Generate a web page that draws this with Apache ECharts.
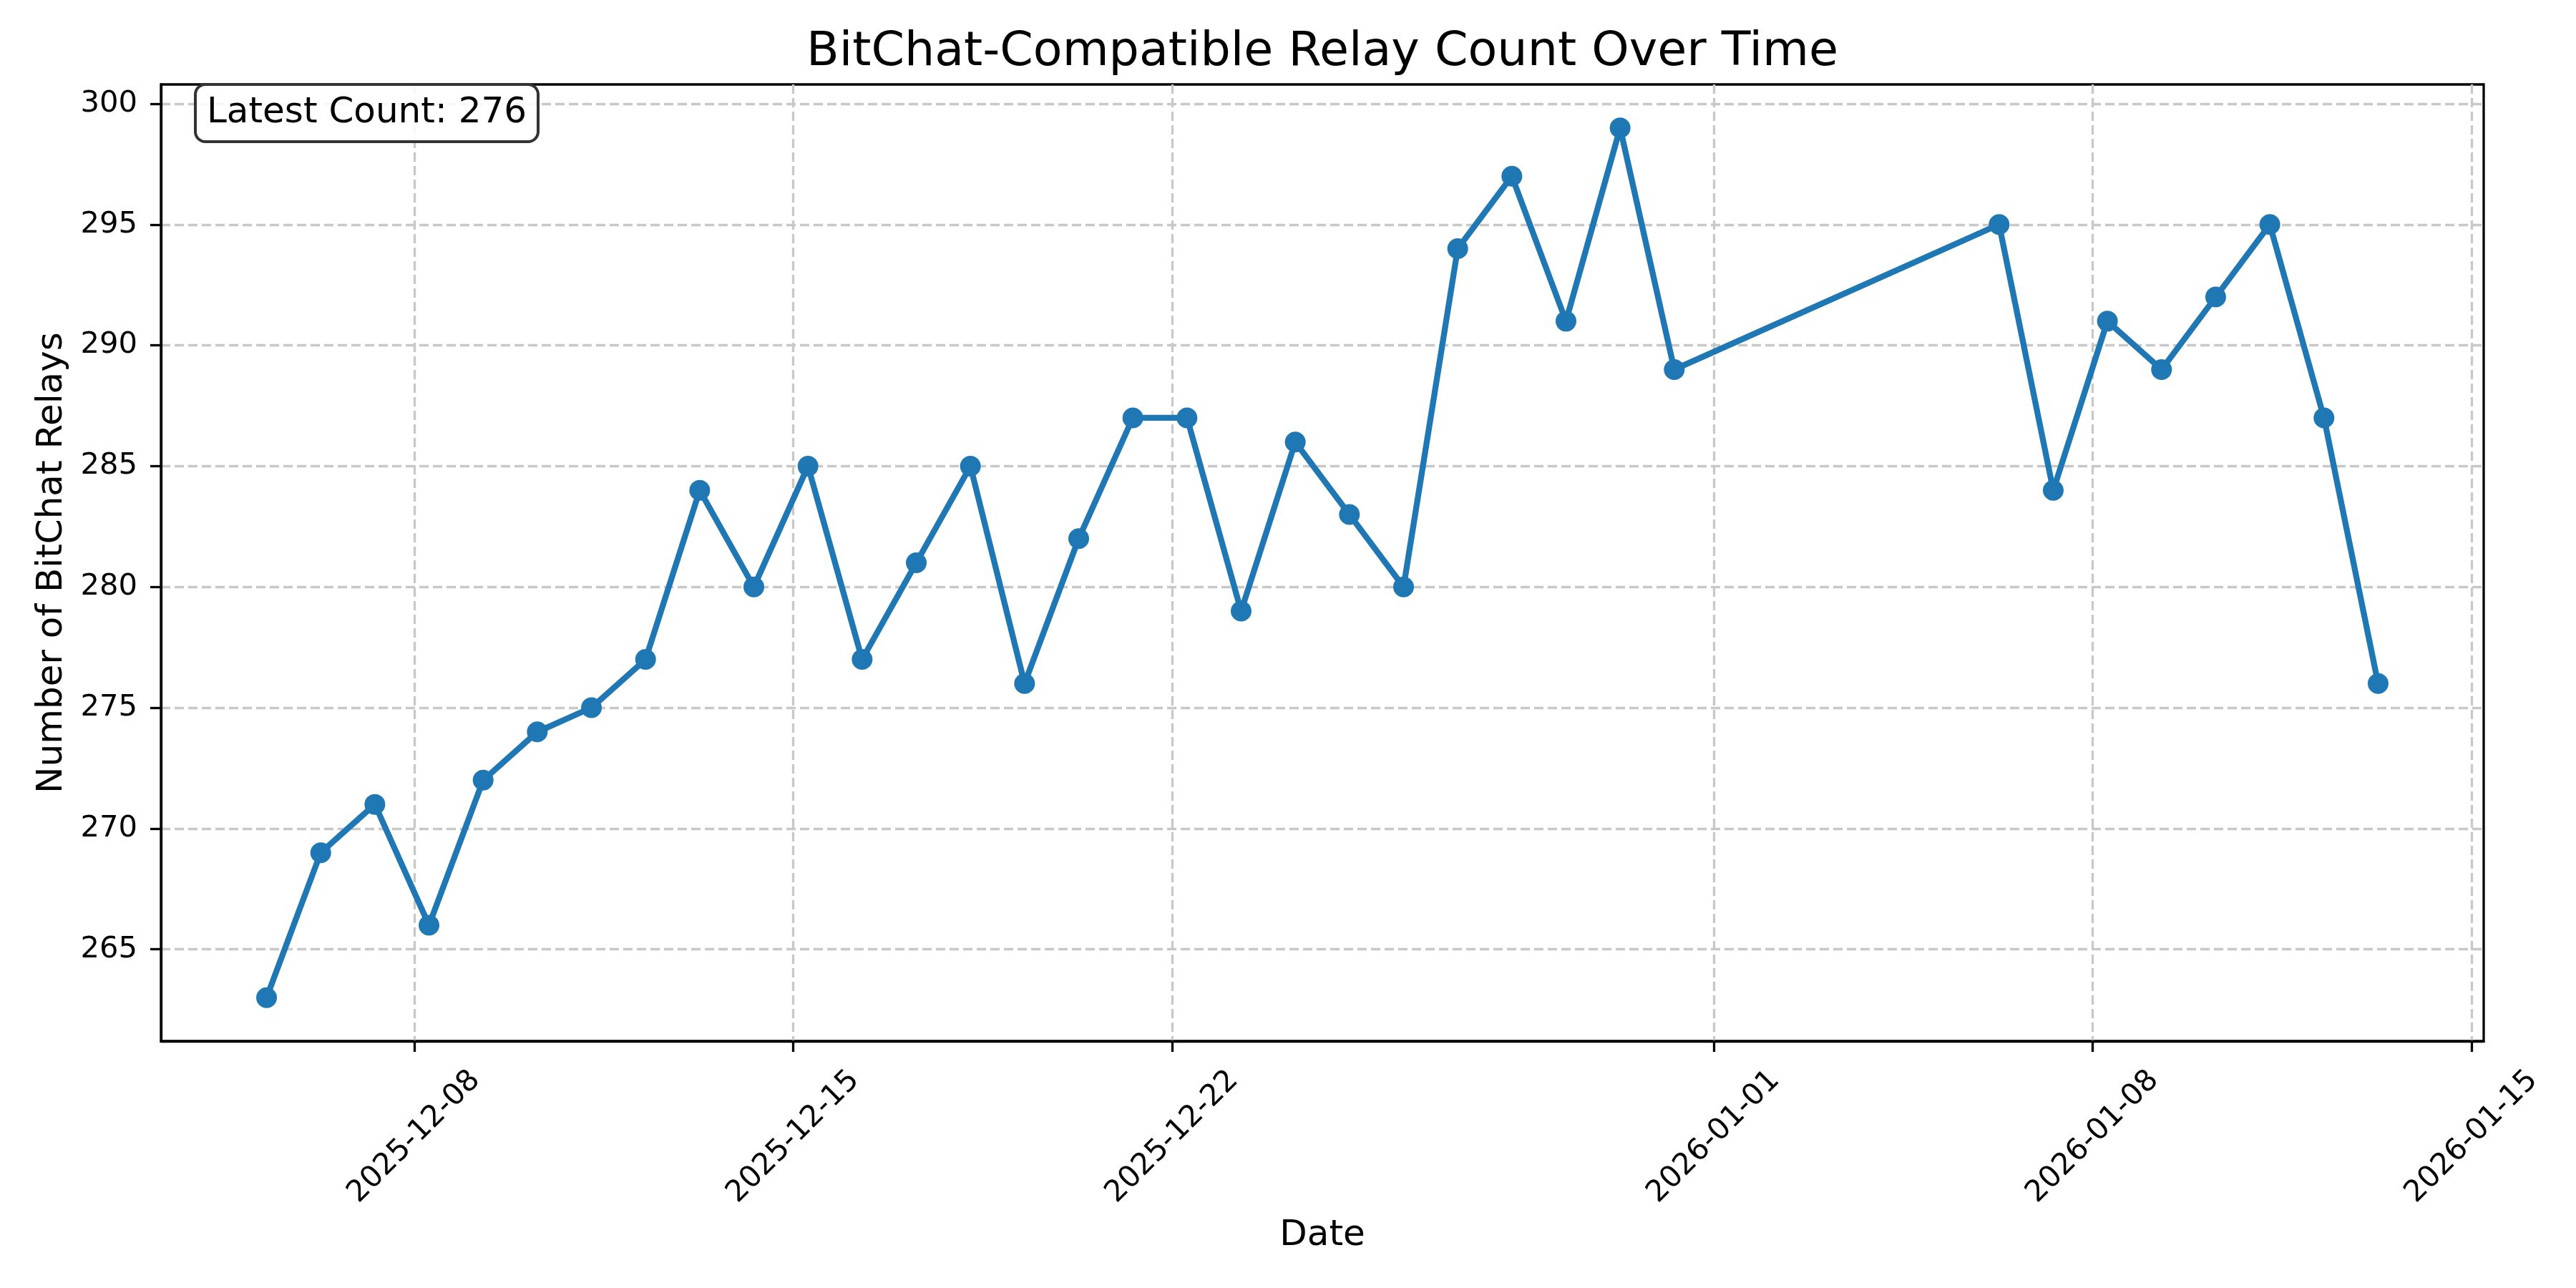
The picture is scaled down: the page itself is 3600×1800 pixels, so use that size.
<!DOCTYPE html>
<html>
<head>
<meta charset="utf-8">
<script src="https://cdn.jsdelivr.net/npm/echarts@6/dist/echarts.min.js"></script>
<style>html,body{margin:0;padding:0;background:#fff;}#chart{width:3600px;height:1800px;}</style>
</head>
<body>
<div id="chart"></div>
<script>
// ---- data ----
const dates = [
  '2025-12-05','2025-12-06','2025-12-07','2025-12-08','2025-12-09','2025-12-10','2025-12-11',
  '2025-12-12','2025-12-13','2025-12-14','2025-12-15','2025-12-16','2025-12-17','2025-12-18',
  '2025-12-19','2025-12-20','2025-12-21','2025-12-22','2025-12-23','2025-12-24','2025-12-25',
  '2025-12-26','2025-12-27','2025-12-28','2025-12-29','2025-12-30','2025-12-31',
  '2026-01-06','2026-01-07','2026-01-08','2026-01-09','2026-01-10','2026-01-11','2026-01-12','2026-01-13'
];
const sampleTime = 'T06:30:00Z';
const counts = [
  263,269,271,266,272,274,275,
  277,284,280,285,277,281,285,
  276,282,287,287,279,286,283,
  280,294,297,291,299,289,
  295,284,291,289,292,295,287,276
];
const xTickLabels = ['2025-12-08','2025-12-15','2025-12-22','2026-01-01','2026-01-08','2026-01-15'];
const yTickValues = [265,270,275,280,285,290,295,300];

const titleText = 'BitChat-Compatible Relay Count Over Time';
const xName = 'Date';
const yName = 'Number of BitChat Relays';

// ---- build ----
const times = dates.map(d => Date.parse(d + sampleTime));
const seriesData = times.map((t, i) => [t, counts[i]]);
const xTicks = xTickLabels.map(d => Date.parse(d + 'T00:00:00Z'));
const tMin = Math.min(...times), tMax = Math.max(...times);
const tSpan = tMax - tMin;
const vMin = Math.min(...counts), vMax = Math.max(...counts);
const vSpan = vMax - vMin;
const latest = counts[counts.length - 1];

function fmtDate(v) {
  const d = new Date(v);
  const p = n => String(n).padStart(2, '0');
  return d.getUTCFullYear() + '-' + p(d.getUTCMonth() + 1) + '-' + p(d.getUTCDate());
}

const FONT = 'DejaVu Sans';
const gridLine = { show: true, lineStyle: { color: '#c8c8c8', width: 3.3, type: [13, 6] } };

const chart = echarts.init(document.getElementById('chart'), null, { renderer: 'canvas' });
chart.setOption({
  animation: false,
  backgroundColor: '#ffffff',
  textStyle: { fontFamily: FONT },
  title: [
    {
      text: titleText,
      left: 1848, top: 40, textAlign: 'center', padding: 0,
      textStyle: { fontFamily: FONT, fontSize: 66.7, lineHeight: 67, fontWeight: 'normal', color: '#000' }
    },
    {
      text: 'Latest Count: ' + latest,
      left: 273, top: 118, padding: [15, 16],
      backgroundColor: 'rgba(255,255,255,0.85)',
      borderColor: '#333333', borderWidth: 4, borderRadius: 14,
      textStyle: { fontFamily: FONT, fontSize: 50, lineHeight: 50, fontWeight: 'normal', color: '#000' }
    }
  ],
  grid: {
    left: 225, right: 129, top: 118, bottom: 345,
    containLabel: false, outerBoundsMode: 'none',
    show: true, borderColor: '#000', borderWidth: 3.3, backgroundColor: 'transparent'
  },
  xAxis: {
    type: 'value',
    min: tMin - 0.05 * tSpan,
    max: tMax + 0.05 * tSpan,
    name: xName, nameLocation: 'middle', nameGap: 247,
    nameTextStyle: { fontFamily: FONT, fontSize: 50, lineHeight: 50, color: '#000' },
    axisLine: { show: true, onZero: false, lineStyle: { color: '#000', width: 3.3 } },
    axisTick: { show: true, length: 15, lineStyle: { color: '#000', width: 3.3 }, customValues: xTicks },
    axisLabel: {
      show: true, customValues: xTicks, rotate: 45, margin: 134,
      align: 'center', verticalAlign: 'middle',
      fontFamily: FONT, fontSize: 41.7, color: '#000',
      formatter: v => fmtDate(v), hideOverlap: false
    },
    splitLine: gridLine
  },
  yAxis: {
    type: 'value',
    min: vMin - 0.05 * vSpan,
    max: vMax + 0.05 * vSpan,
    name: yName, nameLocation: 'middle', nameGap: 127, nameRotate: 90,
    nameTextStyle: { fontFamily: FONT, fontSize: 50, lineHeight: 50, color: '#000' },
    axisLine: { show: true, onZero: false, lineStyle: { color: '#000', width: 3.3 } },
    axisTick: { show: true, length: 15, lineStyle: { color: '#000', width: 3.3 }, customValues: yTickValues },
    axisLabel: {
      show: true, customValues: yTickValues, margin: 33,
      fontFamily: FONT, fontSize: 41.7, color: '#000',
      formatter: v => String(Math.round(v))
    },
    splitLine: gridLine
  },
  series: [{
    type: 'line',
    data: seriesData,
    symbol: 'circle', symbolSize: 29, showSymbol: true,
    itemStyle: { color: '#1f77b4' },
    lineStyle: { color: '#1f77b4', width: 8.3 },
    emphasis: { disabled: true },
    z: 3
  }]
});
</script>
</body>
</html>
